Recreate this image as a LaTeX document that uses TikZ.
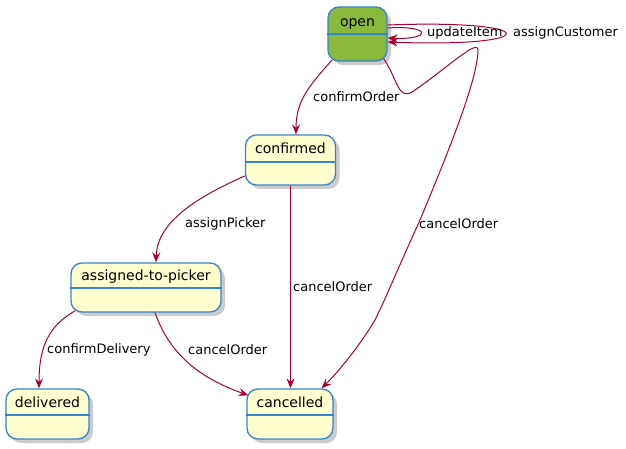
\documentclass[tikz,border=0pt]{standalone}
\usepackage{fontspec}
\setmainfont{DejaVu Sans}
\usetikzlibrary{arrows.meta,shadows}
\definecolor{stateborder}{RGB}{56,132,200}
\definecolor{statefill}{RGB}{254,254,206}
\definecolor{openfill}{RGB}{138,184,61}
\definecolor{arrowred}{RGB}{168,0,54}

\begin{document}
\begin{tikzpicture}[x=1pt, y=-1pt, state/.style={draw=stateborder, fill=statefill, line width=1.3pt, rounded corners=11pt, inner sep=0pt, drop shadow={shadow xshift=4pt, shadow yshift=-4pt, fill=black!40}}, title/.style={anchor=base, font=\fontsize{14}{16}\selectfont, inner sep=0pt}, edge lbl/.style={anchor=west, font=\fontsize{13}{15}\selectfont, inner sep=0pt}, trans/.style={draw=arrowred, line width=1pt, -{Stealth[length=10pt,width=8pt,inset=3.5pt]}}]
\useasboundingbox (0,0) rectangle (626,449);
% states
\node[state, fill=openfill, minimum width=59, minimum height=54] (open) at (357.5,34) {};
\node[state, minimum width=90, minimum height=50] (confirmed) at (290.5,160) {};
\node[state, minimum width=150, minimum height=49] (assigned) at (146,287.5) {};
\node[state, minimum width=83, minimum height=50] (delivered) at (47.5,414) {};
\node[state, minimum width=86, minimum height=50] (cancelled) at (290,414) {};
\node[title] (t1) at (357.5,27) {open};
\node[title] (t2) at (290.5,154) {confirmed};
\node[title] (t3) at (146,280) {assigned-to-picker};
\node[title] (t4) at (47.5,407) {delivered};
\node[title] (t5) at (290,407) {cancelled};
\draw[stateborder, line width=1.3pt] (open.west) -- (open.east);
\draw[stateborder, line width=1.3pt] ([yshift=-2pt]confirmed.west) -- ([yshift=-2pt]confirmed.east);
\draw[stateborder, line width=1.3pt] ([yshift=-0.5pt]assigned.west) -- ([yshift=-0.5pt]assigned.east);
\draw[stateborder, line width=1.3pt] ([yshift=-1pt]delivered.west) -- ([yshift=-1pt]delivered.east);
\draw[stateborder, line width=1.3pt] ([yshift=-1pt]cancelled.west) -- ([yshift=-1pt]cancelled.east);
% transitions
\draw[trans] ([yshift=6pt]open.east) .. controls (432,25) and (432,40) .. ([yshift=-4pt]open.east);
\draw[trans] ([yshift=9pt]open.east) .. controls (545,19) and (545,48) .. ([yshift=-8pt]open.east);
\draw[trans] ([xshift=5pt,yshift=2pt]open.south west) .. controls (310,85) and (296,100) .. ([xshift=5.5pt]confirmed.north);
\draw[trans] ([xshift=-4pt,yshift=3pt]open.south east) .. controls (398,80) and (398,100) .. (412,92)
  .. controls (445,70) and (478,38) .. (478,50)
  .. controls (478,80) and (445,160) .. (420,220)
  .. controls (395,275) and (385,300) .. (375,320)
  .. controls (360,345) and (340,370) .. ([xshift=-12pt]cancelled.north east);
\draw[trans] ([yshift=-16pt]confirmed.west) .. controls (190,200) and (157,225) .. ([xshift=10pt]assigned.north);
\draw[trans] (confirmed.south) -- (confirmed.south |- cancelled.north);
\draw[trans] ([xshift=5pt,yshift=2pt]assigned.south west) .. controls (50,325) and (39,345) .. ([xshift=-8.5pt]delivered.north);
\draw[trans] ([xshift=9pt]assigned.south) .. controls (170,355) and (200,378) .. ([xshift=2pt,yshift=-7pt]cancelled.north west);
% labels
\node[edge lbl] (l1) at (427,33) {updateItem};
\node[edge lbl] (l2) at (513,33) {assignCustomer};
\node[edge lbl] (l3) at (313,97) {confirmOrder};
\node[edge lbl] (l4) at (419,224) {cancelOrder};
\node[edge lbl] (l5) at (185,224) {assignPicker};
\node[edge lbl] (l6) at (293,287) {cancelOrder};
\node[edge lbl] (l7) at (47,350) {confirmDelivery};
\node[edge lbl] (l8) at (188,350) {cancelOrder};
\end{tikzpicture}
\end{document}
